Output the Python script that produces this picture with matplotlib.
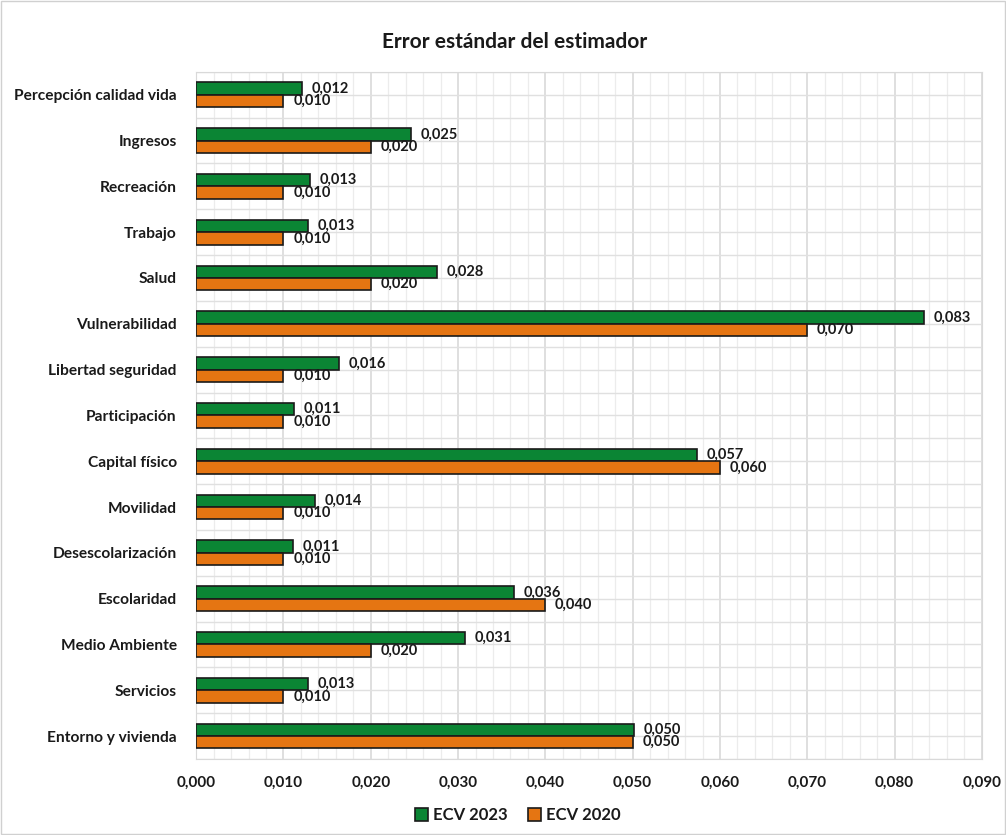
import numpy as np
import matplotlib.pyplot as plt
from matplotlib.ticker import MultipleLocator, FuncFormatter
from matplotlib.patches import Rectangle

plt.rcParams['font.family'] = ['Lato', 'DejaVu Sans']

# Data (top to bottom as in the chart)
categories = ['Percepción calidad vida', 'Ingresos', 'Recreación', 'Trabajo', 'Salud',
              'Vulnerabilidad', 'Libertad seguridad', 'Participación', 'Capital físico',
              'Movilidad', 'Desescolarización', 'Escolaridad', 'Medio Ambiente',
              'Servicios', 'Entorno y vivienda']
ecv_2023 = [0.0121, 0.0246, 0.0130, 0.0128, 0.0276, 0.0834, 0.0164, 0.0112, 0.0574,
            0.0136, 0.0111, 0.0364, 0.0308, 0.0128, 0.0501]
ecv_2020 = [0.010, 0.020, 0.010, 0.010, 0.020, 0.070, 0.010, 0.010, 0.060,
            0.010, 0.010, 0.040, 0.020, 0.010, 0.050]

green = '#0B8534'
orange = '#E57512'

fig = plt.figure(figsize=(10.06, 8.35), dpi=100)
ax = fig.add_axes([0.195, 0.091, 0.781, 0.823])

n = len(categories)
y = np.arange(n)[::-1].astype(float)
h = 0.27

b1 = ax.barh(y + h / 2, ecv_2023, height=h, color=green, edgecolor='#1a1a1a', linewidth=1.2,
             label='ECV 2023', zorder=3)
b2 = ax.barh(y - h / 2, ecv_2020, height=h, color=orange, edgecolor='#1a1a1a', linewidth=1.2,
             label='ECV 2020', zorder=3)

fmt = lambda v: f'{v:.3f}'.replace('.', ',')
for bars, vals in ((b1, ecv_2023), (b2, ecv_2020)):
    for rect, v in zip(bars, vals):
        ax.annotate(fmt(v), (v, rect.get_y() + rect.get_height() / 2),
                    xytext=(7, 0), textcoords='offset points', ha='left', va='center',
                    fontsize=10.5, fontweight='bold', color='#1a1a1a')

ax.set_xlim(0, 0.09)
ax.set_ylim(-0.5, n - 0.5)
ax.xaxis.set_major_locator(MultipleLocator(0.01))
ax.xaxis.set_minor_locator(MultipleLocator(0.002))
ax.xaxis.set_major_formatter(FuncFormatter(lambda v, p: fmt(v)))
ax.set_yticks(y)
ax.set_yticklabels(categories)
ax.set_yticks(np.arange(n + 1) - 0.5, minor=True)

ax.grid(axis='x', which='major', color='#d9d9d9', linewidth=1.2, zorder=0)
ax.grid(axis='x', which='minor', color='#ececec', linewidth=0.9, zorder=0)
ax.grid(axis='y', which='both', color='#e0e0e0', linewidth=1.0, zorder=0)

ax.tick_params(axis='both', which='both', length=0)
ax.tick_params(axis='x', pad=12, labelsize=11)
ax.tick_params(axis='y', pad=14, labelsize=11.2)
for lab in ax.get_xticklabels() + ax.get_yticklabels():
    lab.set_fontweight('bold')
    lab.set_color('#1a1a1a')
for s in ax.spines.values():
    s.set_color('#d9d9d9')

fig.text(0.512, 0.950, 'Error estándar del estimador', ha='center', va='center',
         fontsize=15, fontweight='bold', color='#1a1a1a')

leg = fig.legend(handles=[b1, b2], loc='center', bbox_to_anchor=(0.515, 0.024), ncol=2,
                 frameon=False, fontsize=12, handlelength=0.8, handleheight=0.8,
                 handletextpad=0.3, columnspacing=1.2, prop={'weight': 'bold', 'size': 12})
for t in leg.get_texts():
    t.set_color('#1a1a1a')

fig.patches.append(Rectangle((0.001, 0.001), 0.998, 0.998, transform=fig.transFigure,
                             fill=False, edgecolor='#d0d0d0', linewidth=1))

fig.savefig('out.png', dpi=100)
